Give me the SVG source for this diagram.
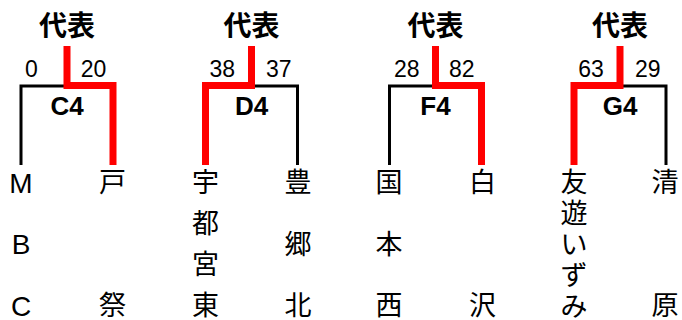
<svg xmlns="http://www.w3.org/2000/svg" width="682" height="320" viewBox="0 0 682 320">
<style>
.bg{fill:#ffffff}
.lose{fill:none;stroke:#000000;stroke-width:3;stroke-linejoin:miter;stroke-linecap:butt}
.win{fill:none;stroke:#ff0000;stroke-width:7;stroke-linejoin:miter;stroke-linecap:butt}
.head{font-family:"Noto Sans CJK JP","Noto Sans CJK SC",sans-serif;font-weight:bold;font-size:28px;fill:#000;text-anchor:middle}
.score{font-family:"Liberation Sans",Arial,sans-serif;font-size:23px;fill:#000}
.match{font-family:"Liberation Sans",Arial,sans-serif;font-weight:bold;font-size:26px;fill:#000;text-anchor:middle}
.team{font-family:"Noto Sans CJK JP","Noto Sans CJK SC",sans-serif;font-size:27px;fill:#000;text-anchor:middle}
.lat{font-family:"Liberation Sans",Arial,sans-serif;font-size:28px;fill:#000;text-anchor:middle}
</style>
<rect class="bg" x="0" y="0" width="682" height="320"/>
<g id="connectors">
<path class="lose" d="M21,165 V86 H67"/>
<path class="win" d="M67,46 V85.5 H113 V165"/>
<path class="lose" d="M297.5,165 V86 H251.5"/>
<path class="win" d="M251.5,46 V85.5 H205.5 V165"/>
<path class="lose" d="M389.5,165 V86 H435.5"/>
<path class="win" d="M435.5,46 V85.5 H481.5 V165"/>
<path class="lose" d="M666,165 V86 H620"/>
<path class="win" d="M620,46 V85.5 H574 V165"/>
</g>
<g id="match-c4">
<text class="head" x="67" y="36">代表</text>
<text class="score" x="25" y="76.5">0</text>
<text class="score" x="80.7" y="76.5">20</text>
<text class="match" x="67" y="114.5">C4</text>
</g>
<g id="match-d4">
<text class="head" x="251.5" y="36">代表</text>
<text class="score" x="209.5" y="76.5">38</text>
<text class="score" x="266" y="76.5">37</text>
<text class="match" x="251.5" y="114.5">D4</text>
</g>
<g id="match-f4">
<text class="head" x="435.5" y="36">代表</text>
<text class="score" x="394" y="76.5">28</text>
<text class="score" x="449" y="76.5">82</text>
<text class="match" x="435.5" y="114.5">F4</text>
</g>
<g id="match-g4">
<text class="head" x="620" y="36">代表</text>
<text class="score" x="578.3" y="76.5">63</text>
<text class="score" x="635" y="76.5">29</text>
<text class="match" x="620" y="114.5">G4</text>
</g>
<g id="team-mbc">
<text class="lat" x="21" y="193">M</text>
<text class="lat" x="21" y="254">B</text>
<text class="lat" x="21" y="315.5">C</text>
</g>
<g id="team-tomatsuri">
<text class="team" x="112.5" y="192">戸</text>
<text class="team" x="112.5" y="315">祭</text>
</g>
<g id="team-utsunomiyahigashi">
<text class="team" x="205.5" y="192">宇</text>
<text class="team" x="205.5" y="233">都</text>
<text class="team" x="205.5" y="274">宮</text>
<text class="team" x="205.5" y="315">東</text>
</g>
<g id="team-toyosatokita">
<text class="team" x="298" y="192">豊</text>
<text class="team" x="298" y="254">郷</text>
<text class="team" x="298" y="315">北</text>
</g>
<g id="team-kunimotonishi">
<text class="team" x="389" y="192">国</text>
<text class="team" x="389" y="254">本</text>
<text class="team" x="389" y="315">西</text>
</g>
<g id="team-shirasawa">
<text class="team" x="482.5" y="192">白</text>
<text class="team" x="482.5" y="315">沢</text>
</g>
<g id="team-yuyuizumi">
<text class="team" x="574" y="192">友</text>
<text class="team" x="574" y="223">遊</text>
<text class="team" x="574" y="254">い</text>
<text class="team" x="574" y="285">ず</text>
<text class="team" x="574" y="316">み</text>
</g>
<g id="team-kiyohara">
<text class="team" x="665" y="192">清</text>
<text class="team" x="665" y="315">原</text>
</g>
</svg>
